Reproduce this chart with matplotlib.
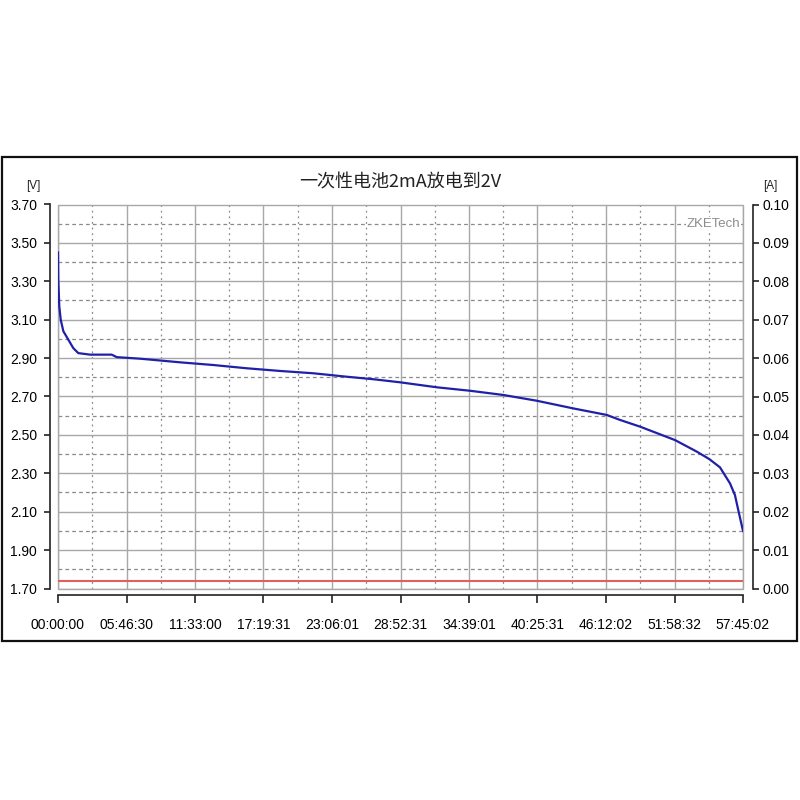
import numpy as np
import matplotlib
matplotlib.use("Agg")
import matplotlib.pyplot as plt
from matplotlib.patches import Rectangle
from matplotlib.ticker import FixedLocator
import matplotlib.transforms as mtransforms

plt.rcParams['font.family'] = ['Liberation Sans', 'DejaVu Sans']

# ---------------- data ----------------
title = "一次性电池2mA放电到2V"
total_hours = 57.7506  # 57:45:02
x_tick_labels = ["00:00:00", "05:46:30", "11:33:00", "17:19:31", "23:06:01",
                 "28:52:31", "34:39:01", "40:25:31", "46:12:02", "51:58:32",
                 "57:45:02"]
v_ticks = [1.70, 1.90, 2.10, 2.30, 2.50, 2.70, 2.90, 3.10, 3.30, 3.50, 3.70]
a_ticks = [0.00, 0.01, 0.02, 0.03, 0.04, 0.05, 0.06, 0.07, 0.08, 0.09, 0.10]

time_h = [0.0, 0.025, 0.11, 0.23, 0.45, 0.87, 1.29, 1.71, 2.70, 4.53, 4.95,
          6.91, 8.88, 10.29, 13.09, 15.91, 18.72, 21.52, 24.34, 26.58, 28.83,
          31.93, 34.73, 37.54, 40.36, 43.44, 46.26, 47.38, 49.07, 52.02,
          53.85, 54.91, 55.81, 56.65, 57.07, 57.35, 57.75]
voltage_v = [3.45, 3.307, 3.168, 3.10, 3.04, 2.996, 2.952, 2.926, 2.918,
             2.918, 2.905, 2.897, 2.886, 2.878, 2.864, 2.847, 2.833, 2.821,
             2.803, 2.790, 2.774, 2.748, 2.730, 2.708, 2.678, 2.638, 2.604,
             2.578, 2.543, 2.473, 2.413, 2.374, 2.331, 2.248, 2.187, 2.109,
             2.000]
current_time_h = [0.0, 57.75]
current_a = [0.002, 0.002]

# ---------------- figure ----------------
W = H = 800
fig = plt.figure(figsize=(8, 8), dpi=100, facecolor="white")

# outer frame
fig.add_artist(Rectangle((1.5 / W, 1 - 641 / H), 795 / W, 484 / H,
                         transform=fig.transFigure, fill=False,
                         edgecolor="#111111", linewidth=1.6))

left, right, top, bottom = 58, 743, 204.5, 588.5
ax = fig.add_axes([left / W, 1 - bottom / H, (right - left) / W, (bottom - top) / H])
ax.set_facecolor("white")

tick_font = dict(family=["Liberation Sans", "DejaVu Sans"], size=9, color="#222222")

ax.plot(time_h, voltage_v, color="#2020a8", linewidth=1.6, zorder=3)
ax.set_xlim(0, total_hours)
ax.set_ylim(1.70, 3.70)

x_major = [total_hours * k / 10 for k in range(11)]
x_minor = [total_hours * (k + 0.5) / 10 for k in range(10)]
ax.xaxis.set_major_locator(FixedLocator(x_major))
ax.xaxis.set_minor_locator(FixedLocator(x_minor))
ax.set_xticklabels(x_tick_labels, fontdict=tick_font)
ax.yaxis.set_major_locator(FixedLocator(v_ticks))
ax.yaxis.set_minor_locator(FixedLocator([v + 0.1 for v in v_ticks[:-1]]))
ax.set_yticklabels([f"{v:.2f}" for v in v_ticks], fontdict=tick_font)

ax.grid(which="major", color="#a8a8a8", linewidth=1.0, linestyle="-", zorder=0)
ax.grid(which="minor", axis="y", color="#8a8a8a", linewidth=0.9, linestyle=(0, (3, 2.5)))
ax.grid(which="minor", axis="x", color="#8a8a8a", linewidth=0.9, linestyle=(0, (1.5, 3)))
ax.set_axisbelow(True)

ax.tick_params(which="minor", length=0)
ax.tick_params(axis="y", which="major", direction="out", length=4, width=1.2,
               pad=5, color="#222222")
ax.tick_params(axis="x", which="major", direction="out", length=6, width=1.2,
               pad=10, color="#222222")

for s in ["top", "right"]:
    ax.spines[s].set_visible(False)
ax.spines["left"].set_position(("outward", 6))
ax.spines["bottom"].set_position(("outward", 5))
for s in ["left", "bottom"]:
    ax.spines[s].set_linewidth(1.2)
    ax.spines[s].set_color("#222222")

# gray frame of plot area
ax.add_patch(Rectangle((0, 0), 1, 1, transform=ax.transAxes, fill=False,
                       edgecolor="#a8a8a8", linewidth=1.0, zorder=1, clip_on=False))

# right axis
ax2 = ax.twinx()
ax2.plot(current_time_h, current_a, color="#e06060", linewidth=1.5, zorder=3)
ax2.set_ylim(0, 0.10)
ax2.yaxis.set_major_locator(FixedLocator(a_ticks))
ax2.set_yticklabels([f"{a:.2f}" for a in a_ticks], fontdict=tick_font)
ax2.tick_params(axis="y", direction="out", length=4, width=1.2, pad=3, color="#222222")
for s in ["top", "left", "bottom"]:
    ax2.spines[s].set_visible(False)
ax2.spines["right"].set_position(("outward", 7))
ax2.spines["right"].set_linewidth(1.2)
ax2.spines["right"].set_color("#222222")

# texts
fig.text(400 / W, 1 - 182 / H, title, ha="center", va="center", fontsize=13,
         family=["Noto Sans CJK SC", "DejaVu Sans"], color="#222222")
fig.text(33 / W, 1 - 186 / H, "[V]", ha="center", va="center", fontsize=8.5,
         color="#222222")
fig.text(770 / W, 1 - 186 / H, "[A]", ha="center", va="center", fontsize=8.5,
         color="#222222")

trans = mtransforms.blended_transform_factory(ax.transAxes, ax.transData)
ax.text(0.9956, 3.60, "ZKETech", transform=trans, ha="right", va="center",
        fontsize=9.5, color="#8c8c8c",
        bbox=dict(facecolor="white", edgecolor="none", pad=0.5), zorder=2)

fig.savefig("out.png", dpi=100, facecolor="white")
